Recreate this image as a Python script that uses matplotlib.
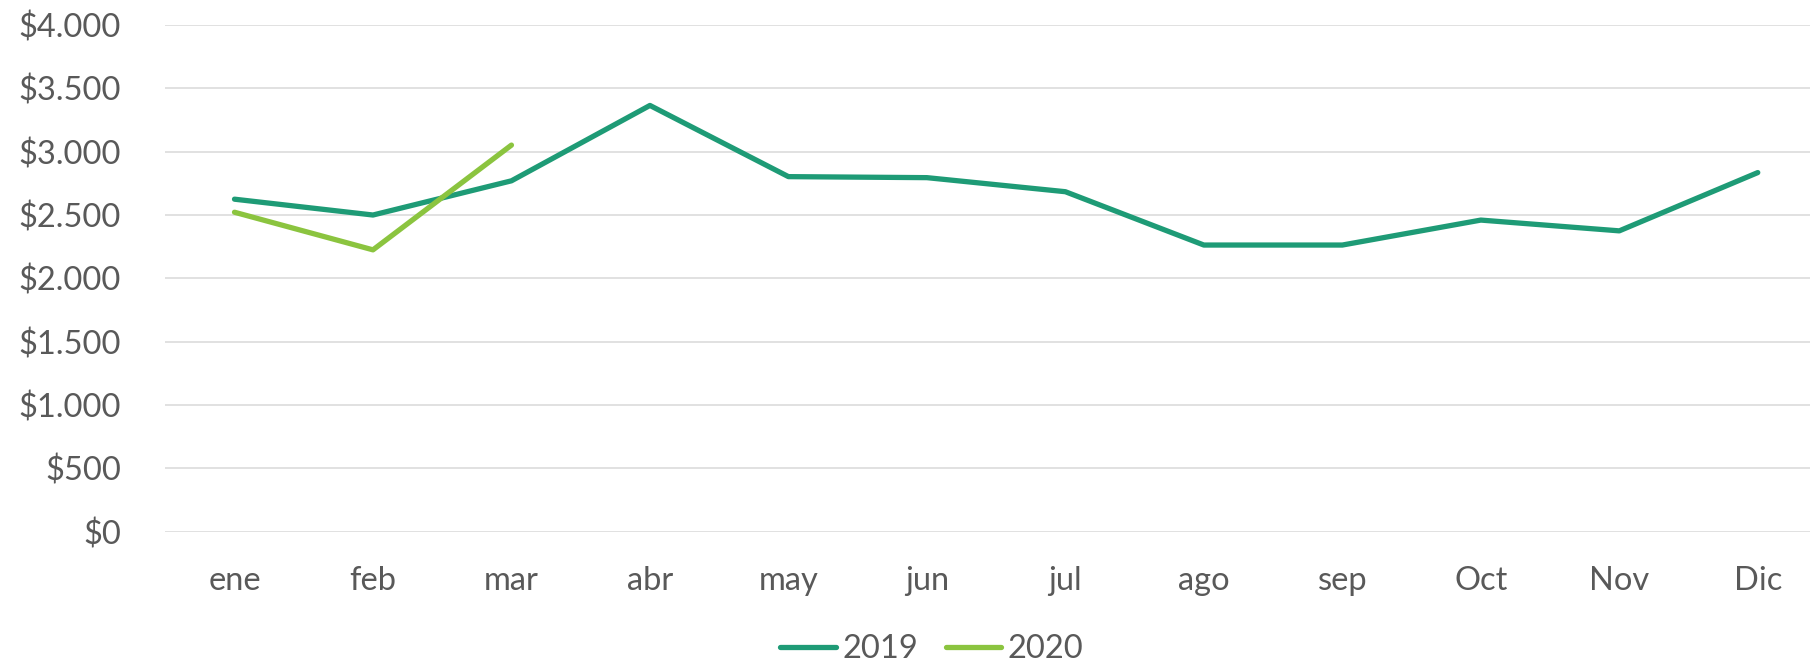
#!/usr/bin/env python3

import matplotlib
matplotlib.use('Agg')
import matplotlib.pyplot as plt
from matplotlib.ticker import FuncFormatter

months = ['ene', 'feb', 'mar', 'abr', 'may', 'jun', 'jul', 'ago', 'sep', 'Oct', 'Nov', 'Dic']
sales_2019 = [2625, 2500, 2770, 3365, 2803, 2795, 2684, 2263, 2263, 2460, 2375, 2835]
sales_2020 = [2522, 2225, 3052]
y_ticks = [0, 500, 1000, 1500, 2000, 2500, 3000, 3500, 4000]

text_color = '#595959'
plt.rcParams['font.family'] = ['Lato', 'DejaVu Sans']


def money(v, pos):
    return '$' + f'{int(v):,}'.replace(',', '.')


def main():
    fig = plt.figure(figsize=(18.10, 6.63), dpi=100)
    ax = fig.add_axes([0.0913, 0.198, 0.9181, 0.7643])

    x = list(range(len(months)))
    ax.plot(x, sales_2019, color='#1E9B76', linewidth=3.8,
            solid_capstyle='round', label='2019', zorder=3)
    ax.plot(x[:len(sales_2020)], sales_2020, color='#8BC43F', linewidth=3.8,
            solid_capstyle='round', label='2020', zorder=3)

    ax.set_xlim(-0.5, len(months) - 0.5)
    ax.set_ylim(0, 4000)
    ax.set_yticks(y_ticks)
    ax.yaxis.set_major_formatter(FuncFormatter(money))
    ax.set_xticks(x)
    ax.set_xticklabels(months)

    ax.grid(axis='y', color='#D9D9D9', linewidth=1.1, zorder=0)
    ax.set_axisbelow(True)
    for side in ['top', 'right', 'left', 'bottom']:
        ax.spines[side].set_visible(False)

    ax.tick_params(axis='both', length=0, labelsize=23.5, labelcolor=text_color)
    ax.tick_params(axis='y', pad=32)
    ax.tick_params(axis='x', pad=25)

    leg = fig.legend(loc='center', bbox_to_anchor=(932 / 1810, 1 - 649 / 663),
                     ncol=2, frameon=False, fontsize=23.5,
                     handlelength=1.7, handletextpad=0.2, columnspacing=0.85,
                     borderpad=0)
    for t in leg.get_texts():
        t.set_color(text_color)

    fig.savefig('out.png', dpi=100)


if __name__ == '__main__':
    main()
